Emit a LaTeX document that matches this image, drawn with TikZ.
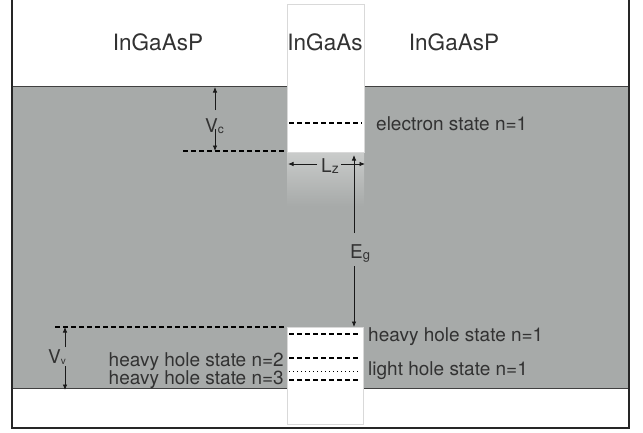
\documentclass[tikz,border=0pt]{standalone}
\usepackage{fontspec}
\setmainfont{TeX Gyre Heros}
\usetikzlibrary{arrows.meta}
\definecolor{bandgray}{RGB}{167,170,169}
\definecolor{gradtop}{RGB}{202,204,203}
\definecolor{txt}{RGB}{50,50,50}
\begin{document}
\begin{tikzpicture}[x=1pt,y=-1pt,
  title/.style={font=\fontsize{22.5}{27}\selectfont, text=txt, inner sep=0pt},
  lbl/.style={font=\fontsize{19}{23}\selectfont, text=txt, inner sep=0pt},
  lvl/.style={dash pattern=on 4.5pt off 3.5pt, line width=1.4pt},
  dotlvl/.style={dash pattern=on 1pt off 3pt, line width=0.9pt},
  dimarrow/.style={-{Latex[length=5.5pt,width=4.5pt]}, line width=0.8pt, black!90},
  wellcol/.style={fill=white, draw=black!15, line width=0.8pt},
  bandline/.style={black!75, line width=1pt},
  frameline/.style={black!85, line width=1.5pt}]
\useasboundingbox (0,0) rectangle (643,432);
% band region
\fill[bandgray] (12,86) rectangle (629,388);
\draw[bandline] (12,86) -- (629,86);
\draw[bandline] (12,388) -- (629,388);
\shade[top color=gradtop,bottom color=bandgray] (287,152) rectangle (364,206);
% well columns
\draw[wellcol] (287,4) rectangle (364,152);
\draw[wellcol] (287,327) rectangle (363,424);
% frame
\draw[frameline] (12,0) -- (12,428) -- (629,428) -- (629,0);
% titles
\node[title, anchor=base] (t1) at (158,50) {InGaAsP};
\node[title, anchor=base] (t2) at (325,50) {InGaAs};
\node[title, anchor=base] (t3) at (454,50) {InGaAsP};
% coordinates of levels
\coordinate (vcL) at (183,151); \coordinate (vcR) at (287,151);
\coordinate (elL) at (289,123); \coordinate (elR) at (362,123);
\coordinate (vvL) at (55,327);  \coordinate (vvR) at (286,327);
\coordinate (h1L) at (289,334); \coordinate (h1R) at (361,334);
\coordinate (h2L) at (289,358); \coordinate (h2R) at (361,358);
\coordinate (lhL) at (289,371); \coordinate (lhR) at (361,371);
\coordinate (h3L) at (289,380); \coordinate (h3R) at (361,380);
\draw[lvl] (vcL) -- (vcR);
\draw[lvl] (elL) -- (elR);
\draw[lvl] (vvL) -- (vvR);
\draw[lvl] (h1L) -- (h1R);
\draw[lvl] (h2L) -- (h2R);
\draw[dotlvl] (lhL) -- (lhR);
\draw[lvl] (h3L) -- (h3R);
% level labels
\node[lbl, anchor=base west] (el) at (376,130) {electron state n=1};
\node[lbl, anchor=base west] (hh1) at (368,341) {heavy hole state n=1};
\node[lbl, anchor=base west] (lh1) at (368,375) {light hole state n=1};
\node[lbl, anchor=base east] (hh2) at (284,366) {heavy hole state n=2};
\node[lbl, anchor=base east] (hh3) at (284,384) {heavy hole state n=3};
% dimension arrows
\coordinate (vc1) at (215,110); \coordinate (vc2) at (215,87);
\coordinate (vc3) at (215,129); \coordinate (vc4) at (215,151);
\draw[dimarrow] (vc1) -- (vc2);
\draw[dimarrow] (vc3) -- (vc4);
\node[lbl, anchor=base west] (vc) at (205,132) {V\raisebox{-1.5pt}{\fontsize{12}{12}\selectfont c}};
\coordinate (lz1) at (317,164); \coordinate (lz2) at (288,164);
\coordinate (lz3) at (341,164); \coordinate (lz4) at (365,164);
\draw[dimarrow] (lz1) -- (lz2);
\draw[dimarrow] (lz3) -- (lz4);
\node[lbl, anchor=base west] (lz) at (321,172) {L\raisebox{-1pt}{\fontsize{14}{14}\selectfont z}};
\coordinate (eg1) at (354,233); \coordinate (eg2) at (354,155);
\coordinate (eg3) at (354,266); \coordinate (eg4) at (354,327);
\draw[dimarrow] (eg1) -- (eg2);
\draw[dimarrow] (eg3) -- (eg4);
\node[lbl, anchor=base west] (eg) at (350,258) {E\raisebox{-1.5pt}{\fontsize{13}{13}\selectfont g}};
\coordinate (vv1) at (65,347); \coordinate (vv2) at (65,327);
\coordinate (vv3) at (65,366); \coordinate (vv4) at (65,390);
\draw[dimarrow] (vv1) -- (vv2);
\draw[dimarrow] (vv3) -- (vv4);
\node[lbl, anchor=base west] (vv) at (48,363) {V\raisebox{-1pt}{\fontsize{10}{10}\selectfont v}};
\end{tikzpicture}
\end{document}
